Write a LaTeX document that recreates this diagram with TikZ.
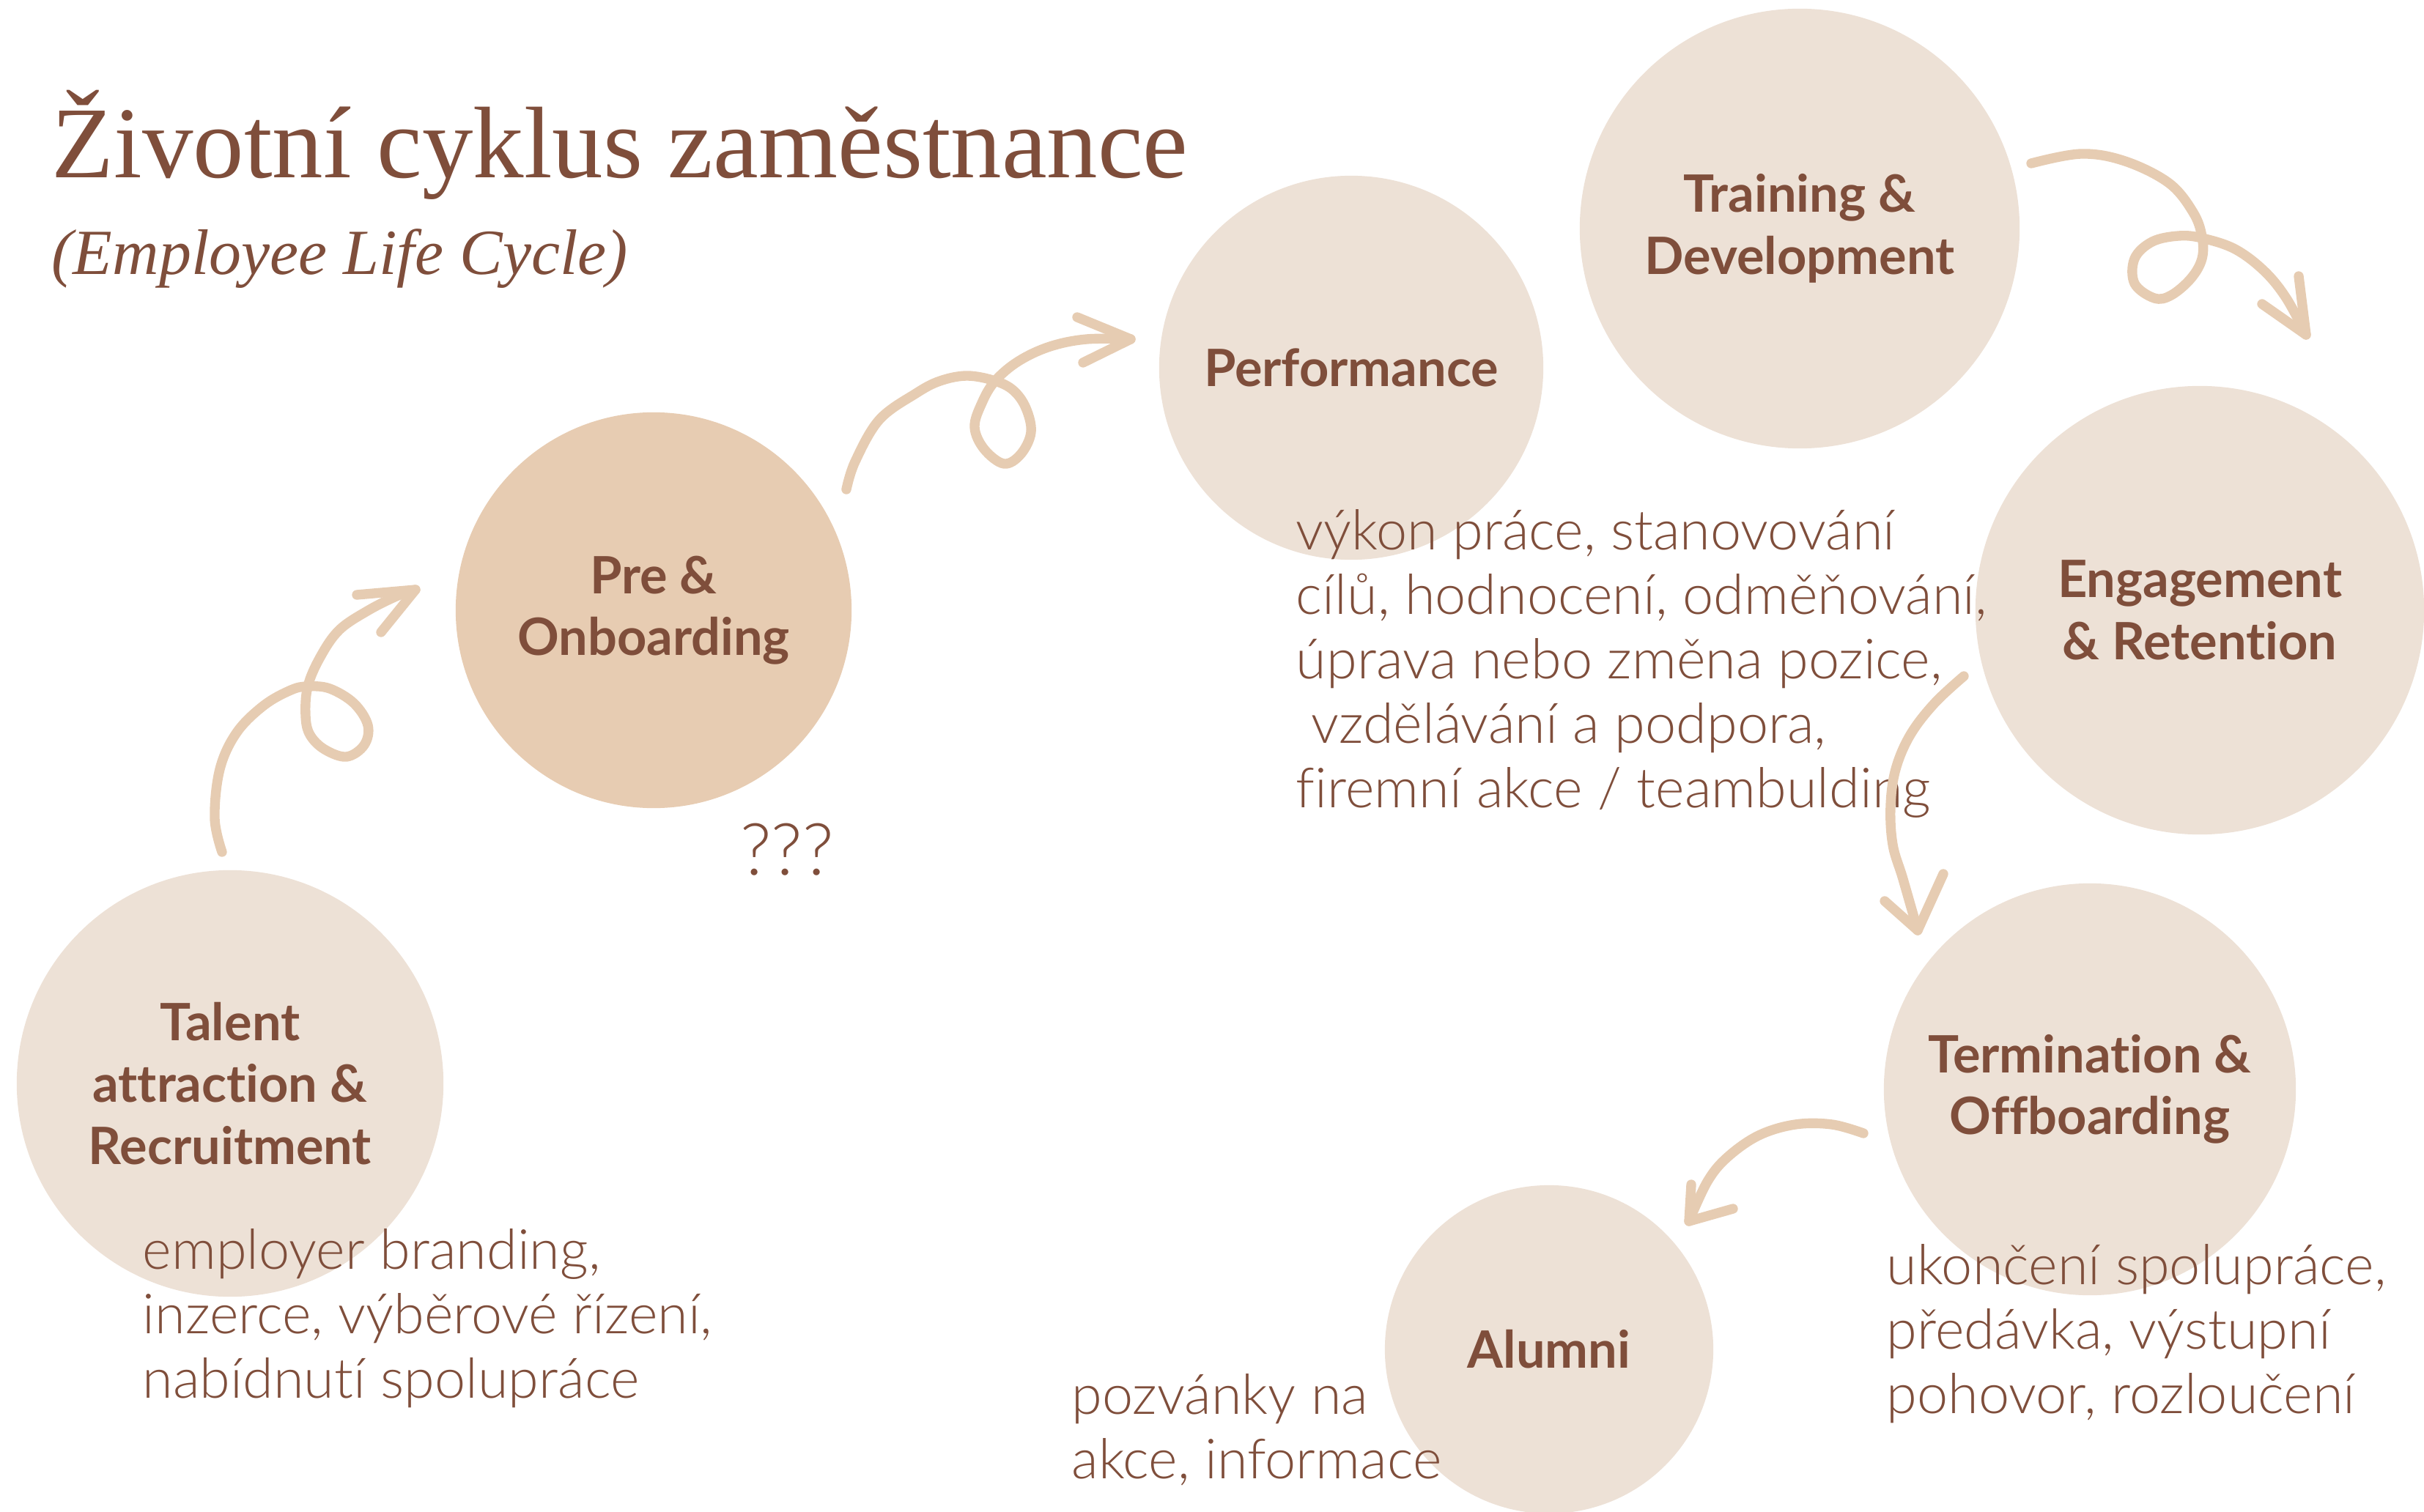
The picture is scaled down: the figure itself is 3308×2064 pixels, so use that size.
\documentclass[tikz,border=0pt]{standalone}
\usepackage{fontspec}
\setmainfont{Lato}[Ligatures=NoCommon]
\newfontfamily\lightfont{Lato Light}[Ligatures=NoCommon]
\newfontfamily\titlefont{Liberation Serif}
\definecolor{cocoa}{RGB}{127,78,59}
\definecolor{sand}{RGB}{237,225,214}
\definecolor{caramel}{RGB}{231,204,178}
\definecolor{tan}{RGB}{230,204,178}
\tikzset{
x=0.01cm, y=-0.01cm, % one unit is one pixel of the reference, y runs down
stage/.style={circle, fill=sand, text=cocoa, align=center, inner sep=0pt,
  font=\bfseries\fontsize{20}{24}\selectfont}, % the round phase nodes
note/.style={text=cocoa, align=left, inner sep=0pt, anchor=west,
  font=\lightfont\fontsize{21.5}{25}\selectfont}, % the plain comments under the phases
sketch/.style={draw=tan, line width=3.8pt, line cap=round, line join=round}, % hand drawn arrows
}

\begin{document}
\begin{tikzpicture}
    \useasboundingbox (0,0) rectangle (3308,2064);
    \node[stage, minimum size=5.82cm] (talent) at (314,1479) {Talent\\attraction \&\\Recruitment};
    \node[stage, minimum size=5.40cm, fill=caramel] (onboard) at (892,833) {Pre \&\\Onboarding};
    \node[stage, minimum size=5.24cm] (perf) at (1844,502) {Performance};
    \node[stage, minimum size=6.00cm] (train) at (2456,312) {Training \&\\Development};
    \node[stage, minimum size=6.12cm] (engage) at (3002,833) {Engagement\\\& Retention};
    \node[stage, minimum size=5.62cm] (term) at (2852,1487) {Termination \&\\Offboarding};
    \node[stage, minimum size=4.48cm] (alumni) at (2114,1842) {Alumni};

    \node[anchor=base west, inner sep=0pt, text=cocoa, font=\titlefont\fontsize{39.5}{44}\selectfont] (title) at (70,243) {Životní cyklus zaměstnance};
    \node[anchor=base west, inner sep=0pt, text=cocoa, font=\titlefont\itshape\fontsize{25}{30}\selectfont] (subtitle) at (70,375) {(Employee Life Cycle)};

    \node[note] (talentnote) at (194,1800) {employer branding,\\inzerce, výběrové řízení,\\nabídnutí spolupráce};
    \node[note] (perfnote) at (1768,906) {výkon práce, stanovování\\cílů, hodnocení, odměňování,\\úprava nebo změna pozice,\\\ vzdělávání a podpora,\\firemní akce / teambulding};
    \node[note] (termnote) at (2574,1821) {ukončení spolupráce,\\předávka, výstupní\\pohovor, rozloučení};
    \node[note] (alumninote) at (1462,1952) {pozvánky na\\akce, informace};
    \node[text=cocoa, font=\lightfont\fontsize{28}{32}\selectfont] (qmarks) at (1074,1160) {???};

    \coordinate (a1s) at (303,1163);
    \coordinate (a1e) at (567,805);
    \coordinate (a2s) at (1155,668);
    \coordinate (a2e) at (1543,463);
    \coordinate (a3s) at (2772,223);
    \coordinate (a3e) at (3147,457);
    \coordinate (a4s) at (2680,923);
    \coordinate (a4e) at (2617,1270);
    \coordinate (a5s) at (2543,1547);
    \coordinate (a5e) at (2305,1667);

    \draw[sketch] plot[smooth, tension=0.6] coordinates {(a1s) (293,1117) (300,1050) (323,1000) (360,963) (397,942) (420,937) (450,940) (483,960) (502,990) (497,1017) (473,1033) (443,1023) (423,1003) (417,977) (420,937) (437,897) (463,860) (503,833) (543,813) (a1e)};
    \draw[sketch] (487,812) -- (a1e) -- (520,863);
    \draw[sketch] plot[smooth, tension=0.6] coordinates {(a2s) (1167,630) (1200,573) (1250,537) (1283,520) (1320,513) (1358,520) (1383,533) (1400,557) (1407,590) (1393,620) (1370,633) (1343,613) (1330,583) (1340,550) (1358,520) (1390,493) (1433,473) (1483,463) (a2e)};
    \draw[sketch] (1470,433) -- (a2e) -- (1478,495);
    \draw[sketch] plot[smooth, tension=0.6] coordinates {(a3s) (2840,210) (2900,220) (2960,250) (2993,290) (3005,323) (3005,353) (2990,380) (2963,403) (2940,407) (2913,387) (2913,353) (2937,330) (2973,322) (3005,325) (3050,340) (3090,370) (3120,407) (a3e)};
    \draw[sketch] (3087,415) -- (a3e) -- (3137,377);
    \draw[sketch] plot[smooth, tension=0.6] coordinates {(a4s) (2640,960) (2607,1003) (2587,1050) (2580,1100) (2583,1153) (2597,1200) (a4e)};
    \draw[sketch] (2572,1230) -- (a4e) -- (2652,1193);
    \draw[sketch] plot[smooth, tension=0.6] coordinates {(a5s) (2500,1535) (2450,1535) (2400,1550) (2357,1580) (2330,1613) (a5e)};
    \draw[sketch] (2308,1617) -- (a5e) -- (2365,1650);
\end{tikzpicture}
\end{document}
